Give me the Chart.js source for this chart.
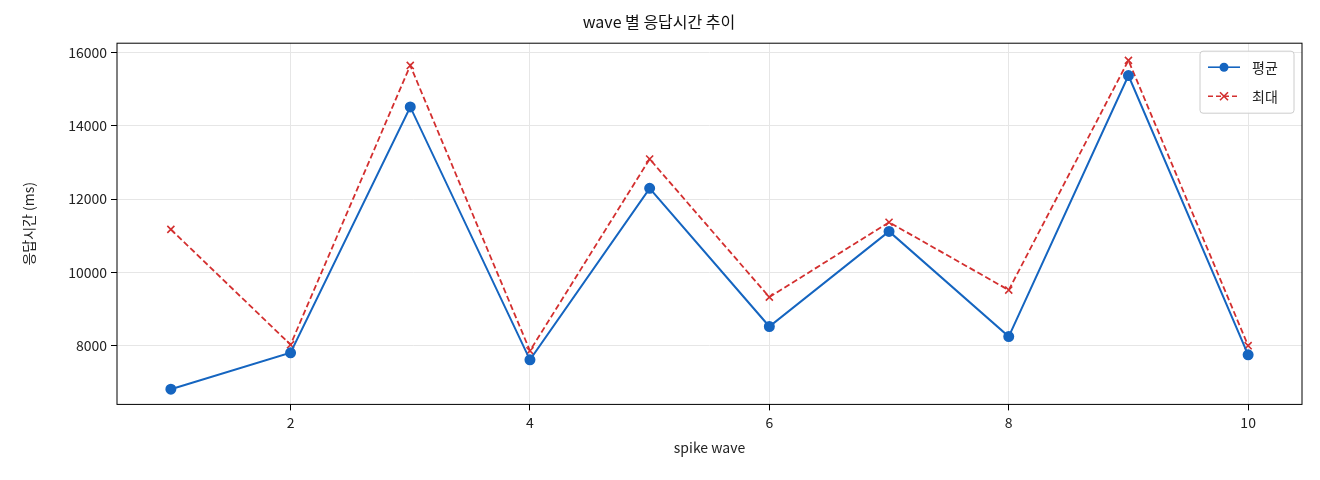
<!DOCTYPE html>
<html>
<head>
<meta charset="utf-8">
<script src="https://cdn.jsdelivr.net/npm/chart.js@4"></script>
<style>
  body { margin: 0; background: #fff; }
  #wrap { width: 1320px; height: 480px; }
</style>
</head>
<body>
<div id="wrap"><canvas id="myChart"></canvas></div>
<script>
var waves = [1, 2, 3, 4, 5, 6, 7, 8, 9, 10];
var avgMs = [6814, 7807, 14510, 7614, 12290, 8524, 11117, 8248, 15366, 7752];
var maxMs = [11172, 8028, 15641, 7862, 13090, 9324, 11366, 9517, 15779, 8000];
var xTicks = [2, 4, 6, 8, 10];
var yTicks = [8000, 10000, 12000, 14000, 16000];

var font = "'Noto Sans CJK KR', 'DejaVu Sans', sans-serif";
var blue = '#1565c0';
var red = '#d32f2f';

function pts(vals) {
  return waves.map(function (w, i) { return { x: w, y: vals[i] }; });
}

// frame around plot + legend box top right
var framePlugin = {
  id: 'frame',
  afterDraw: function (chart) {
    var c = chart.ctx, a = chart.chartArea;
    c.save();
    c.strokeStyle = '#000';
    c.lineWidth = 1;
    c.strokeRect(a.left, a.top, a.right - a.left, a.bottom - a.top);

    var bx = a.right - 102, by = a.top + 8, bw = 94, bh = 62;
    c.fillStyle = 'rgba(255,255,255,0.85)';
    c.strokeStyle = '#ccc';
    c.beginPath();
    c.roundRect(bx, by, bw, bh, 3);
    c.fill();
    c.stroke();

    var items = [
      { label: '평균', color: blue, dash: [], marker: 'dot' },
      { label: '최대', color: red, dash: [5, 3], marker: 'x' }
    ];
    items.forEach(function (it, i) {
      var y = by + 16 + i * 29;
      c.strokeStyle = it.color;
      c.lineWidth = 1.6;
      c.setLineDash(it.dash);
      c.beginPath();
      c.moveTo(bx + 8, y);
      c.lineTo(bx + 40, y);
      c.stroke();
      c.setLineDash([]);
      if (it.marker === 'dot') {
        c.fillStyle = it.color;
        c.beginPath();
        c.arc(bx + 24, y, 4.5, 0, Math.PI * 2);
        c.fill();
      } else {
        c.beginPath();
        c.moveTo(bx + 20, y - 4); c.lineTo(bx + 28, y + 4);
        c.moveTo(bx + 28, y - 4); c.lineTo(bx + 20, y + 4);
        c.stroke();
      }
      c.fillStyle = '#222';
      c.font = '14px ' + font;
      c.textBaseline = 'middle';
      c.fillText(it.label, bx + 52, y);
    });
    c.restore();
  }
};

new Chart(document.getElementById('myChart'), {
  type: 'line',
  data: {
    datasets: [{
      label: '평균',
      data: pts(avgMs),
      borderColor: blue,
      backgroundColor: blue,
      borderWidth: 2,
      pointRadius: 4.5,
      pointStyle: 'circle',
      tension: 0
    }, {
      label: '최대',
      data: pts(maxMs),
      borderColor: red,
      backgroundColor: red,
      borderWidth: 1.8,
      borderDash: [6, 3],
      pointRadius: 5,
      pointStyle: 'cross',
      pointRotation: 45,
      pointBorderWidth: 1.6,
      tension: 0
    }]
  },
  plugins: [framePlugin],
  options: {
    responsive: true,
    maintainAspectRatio: false,
    animation: false,
    layout: { padding: { left: 16, right: 18, top: 6, bottom: 20 } },
    plugins: {
      legend: { display: false },
      tooltip: { enabled: false },
      title: {
        display: true,
        text: 'wave 별 응답시간 추이',
        color: '#111',
        font: { family: font, size: 16, weight: 'normal' },
        padding: { top: 6, bottom: 12 }
      }
    },
    scales: {
      x: {
        type: 'linear',
        min: 0.55,
        max: 10.45,
        afterBuildTicks: function (s) { s.ticks = xTicks.map(function (v) { return { value: v }; }); },
        grid: { color: '#e6e6e6', tickColor: '#000', tickLength: 6 },
        border: { display: false },
        ticks: { color: '#222', font: { family: font, size: 14 }, padding: 4, callback: function (v) { return String(v); } },
        title: { display: true, text: 'spike wave', color: '#222', font: { family: font, size: 14 } }
      },
      y: {
        min: 6400,
        max: 16248,
        afterBuildTicks: function (s) { s.ticks = yTicks.map(function (v) { return { value: v }; }); },
        afterFit: function (s) { s.width = 101; },
        grid: { color: '#e6e6e6', tickColor: '#000', tickLength: 6 },
        border: { display: false },
        ticks: { color: '#222', font: { family: font, size: 14 }, padding: 4, callback: function (v) { return String(v); } },
        title: { display: true, text: '응답시간 (ms)', color: '#222', font: { family: font, size: 14 } }
      }
    }
  }
});
</script>
</body>
</html>
